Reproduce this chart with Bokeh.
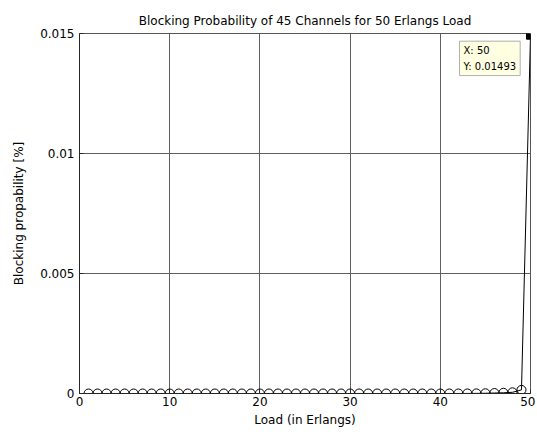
from bokeh.plotting import figure
from bokeh.models import Range1d, FixedTicker, Label, ColumnDataSource
from bokeh.embed import file_html
from bokeh.resources import INLINE

# ---- data ----
load_erlangs = [1, 2, 3, 4, 5, 6, 7, 8, 9, 10,
                11, 12, 13, 14, 15, 16, 17, 18, 19, 20,
                21, 22, 23, 24, 25, 26, 27, 28, 29, 30,
                31, 32, 33, 34, 35, 36, 37, 38, 39, 40,
                41, 42, 43, 44, 45, 46, 47, 48, 49, 50]
blocking = [0.0, 0.0, 0.0, 0.0, 0.0, 0.0, 0.0, 0.0, 0.0, 0.0,
            0.0, 0.0, 0.0, 0.0, 0.0, 0.0, 0.0, 0.0, 0.0, 0.0,
            0.0, 0.0, 0.0, 0.0, 0.0, 0.0, 0.0, 0.0, 0.0, 0.0,
            0.0, 0.0, 0.0, 0.0, 0.0, 0.0, 0.0, 0.0, 0.0, 0.0,
            0.0, 0.0, 0.000002, 0.000005, 0.00001, 0.00002, 0.00003, 0.00005, 0.00015, 0.01493]

tip_x = [50]
tip_y = [0.01493]
tip_text = "X: 50\nY: 0.01493"

x_ticks = [0, 10, 20, 30, 40, 50]
y_ticks = [0, 0.005, 0.01, 0.015]
y_tick_labels = ["0", "0.005", "0.01", "0.015"]

FONT = "DejaVu Sans"

p = figure(width=535, height=430, output_backend="svg", toolbar_location=None,
           x_range=Range1d(0, 50), y_range=Range1d(0, 0.015),
           title="Blocking Probability of 45 Channels for 50 Erlangs Load",
           min_border_left=79, min_border_right=5, min_border_top=33, min_border_bottom=37)

p.title.align = "center"
p.title.text_font = FONT
p.title.text_font_size = "12px"
p.title.text_font_style = "normal"
p.title.text_color = "#000000"
p.title.standoff = 12

p.background_fill_color = "white"
p.border_fill_color = "white"
p.outline_line_color = "#555555"
p.outline_line_width = 1

p.xaxis.ticker = FixedTicker(ticks=x_ticks)
p.yaxis.ticker = FixedTicker(ticks=y_ticks)
p.yaxis.major_label_overrides = {v: s for v, s in zip(y_ticks, y_tick_labels)}

for ax in (p.xaxis[0], p.yaxis[0]):
    ax.axis_line_color = "#262626"
    ax.major_tick_line_color = "#262626"
    ax.major_tick_in = 4
    ax.major_tick_out = 0
    ax.minor_tick_line_color = None
    ax.major_label_text_font = FONT
    ax.major_label_text_font_size = "12px"
    ax.major_label_text_color = "#000000"
    ax.axis_label_text_font = FONT
    ax.axis_label_text_font_size = "12px"
    ax.axis_label_text_font_style = "normal"
    ax.axis_label_text_color = "#000000"

p.xaxis.axis_label = "Load (in Erlangs)"
p.xaxis.major_label_standoff = 3
p.xaxis.axis_label_standoff = 4
p.yaxis.axis_label = "Blocking propability [%]"
p.yaxis.major_label_standoff = 5
p.yaxis.axis_label_standoff = 11

p.grid.grid_line_color = "#606060"
p.grid.grid_line_width = 1

src = ColumnDataSource(data=dict(x=load_erlangs, y=blocking))
p.line("x", "y", source=src, line_color="black", line_width=1)
p.scatter("x", "y", source=ColumnDataSource(data=dict(x=load_erlangs[:-1], y=blocking[:-1])),
          marker="circle", size=9, line_color="black", line_width=1, fill_alpha=0)
p.scatter(tip_x, tip_y, marker="square", size=8, fill_color="black", line_color="black")

tip = Label(x=tip_x[0], y=tip_y[0], x_units="data", y_units="data",
            x_offset=-71, y_offset=-6, text=tip_text,
            text_font=FONT, text_font_size="10px", text_color="#000000",
            text_align="left", text_baseline="top", text_line_height=1.4,
            background_fill_color="#FFFFE1", background_fill_alpha=1.0,
            border_line_color="#B0B0B0", border_line_width=1, padding=4)
p.add_layout(tip)

open("out.html", "w").write(file_html(p, INLINE))
